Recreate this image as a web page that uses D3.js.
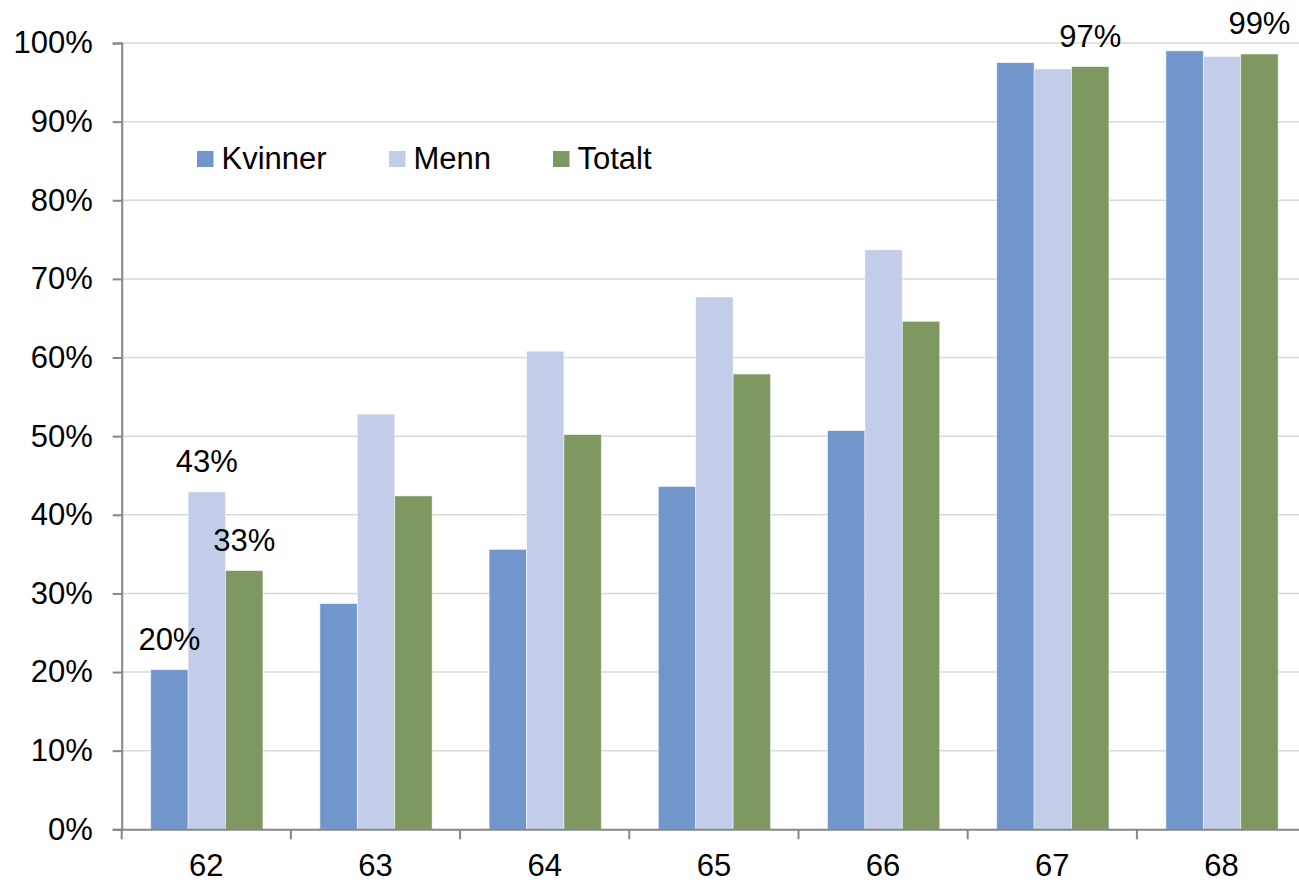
<!DOCTYPE html>
<html>
<head>
<meta charset="utf-8">
<script src="https://cdn.jsdelivr.net/npm/d3@7"></script>
<style>
  html, body { margin: 0; padding: 0; background: #fff; overflow: hidden; }
  svg { display: block; font-family: "Liberation Sans", Arial, sans-serif; }
</style>
</head>
<body>
<svg id="chart" width="1299" height="883"></svg>
<script>
const categories = ["62", "63", "64", "65", "66", "67", "68"];
const seriesNames = ["Kvinner", "Menn", "Totalt"];
const kvinner = [20.3, 28.7, 35.6, 43.6, 50.7, 97.5, 99.0];
const menn    = [42.9, 52.8, 60.8, 67.7, 73.7, 96.7, 98.3];
const totalt  = [32.9, 42.4, 50.2, 57.9, 64.6, 97.0, 98.6];
const yTicks = [0, 10, 20, 30, 40, 50, 60, 70, 80, 90, 100];
const colors = ["#7096CC", "#C3CDE9", "#7F9862"];
// data labels: [category, series]
const labelCats = ["62", "62", "62", "67", "68"];
const labelSeries = ["Kvinner", "Menn", "Totalt", "Totalt", "Totalt"];

const seriesValues = { Kvinner: kvinner, Menn: menn, Totalt: totalt };

const svg = d3.select("#chart");
const pLeft = 121.7, pRight = 121.7 + 7 * 169.2, pTop = 43, pBottom = 829.3;
const FS = 31;

const x = d3.scaleBand().domain(categories).range([pLeft, pRight]).paddingInner(0).paddingOuter(0);
const bw = x.bandwidth();
const x1 = d3.scaleBand().domain(seriesNames).range([bw * 0.1715, bw * 0.8347]).padding(0);
const y = d3.scaleLinear().domain([0, 100]).range([pBottom, pTop]);
const color = d3.scaleOrdinal().domain(seriesNames).range(colors);

// gridlines
svg.append("g").selectAll("line").data(yTicks.filter(d => d > 0)).join("line")
  .attr("x1", pLeft).attr("x2", pRight)
  .attr("y1", d => y(d)).attr("y2", d => y(d))
  .attr("stroke", "#d9d9d9").attr("stroke-width", 1.5);

// bars
const rows = categories.map((c, i) => ({ cat: c, vals: seriesNames.map(s => ({ s, v: seriesValues[s][i] })) }));
svg.append("g").selectAll("g").data(rows).join("g")
  .attr("transform", d => `translate(${x(d.cat)},0)`)
  .selectAll("rect").data(d => d.vals).join("rect")
  .attr("x", d => x1(d.s))
  .attr("width", x1.bandwidth())
  .attr("y", d => y(d.v))
  .attr("height", d => y(0) - y(d.v))
  .attr("fill", d => color(d.s))
  .attr("stroke", "rgba(255,255,255,0.6)").attr("stroke-width", 0.8);

// y axis
const yAxis = d3.axisLeft(y).tickValues(yTicks).tickFormat(d => d + "%").tickSize(9).tickPadding(20);
const gy = svg.append("g").attr("transform", `translate(${pLeft},0)`).call(yAxis);
gy.select(".domain").attr("stroke", "#868686").attr("stroke-width", 2);
gy.selectAll(".tick line").attr("stroke", "#868686").attr("stroke-width", 2);
gy.selectAll(".tick text").attr("font-size", FS).attr("fill", "#000")
  .attr("font-family", "Liberation Sans, Arial, sans-serif");

// x axis
const xAxis = d3.axisBottom(x).tickSize(0).tickPadding(25);
const gx = svg.append("g").attr("transform", `translate(0,${pBottom})`).call(xAxis);
gx.select(".domain").attr("stroke", "#868686").attr("stroke-width", 2);
gx.selectAll(".tick text").attr("font-size", FS).attr("fill", "#000")
  .attr("font-family", "Liberation Sans, Arial, sans-serif");
// category separators
svg.append("g").selectAll("line").data(categories).join("line")
  .attr("x1", d => x(d)).attr("x2", d => x(d))
  .attr("y1", pBottom).attr("y2", pBottom + 10)
  .attr("stroke", "#868686").attr("stroke-width", 2);

// data labels
svg.append("g").selectAll("text").data(labelCats.map((c, i) => ({ c, s: labelSeries[i] }))).join("text")
  .attr("x", d => x(d.c) + x1(d.s) + x1.bandwidth() / 2)
  .attr("y", d => y(seriesValues[d.s][categories.indexOf(d.c)]) - 20)
  .attr("text-anchor", "middle")
  .attr("font-size", FS).attr("fill", "#000")
  .text(d => Math.round(seriesValues[d.s][categories.indexOf(d.c)]) + "%");

// legend
const legendX = [197, 389, 553];
const lg = svg.append("g").selectAll("g").data(seriesNames).join("g")
  .attr("transform", (d, i) => `translate(${legendX[i]},151)`);
lg.append("rect").attr("width", 16.5).attr("height", 16).attr("fill", d => color(d));
lg.append("text").attr("x", 24.5).attr("y", 17.5).attr("font-size", FS).attr("fill", "#000").text(d => d);
</script>
</body>
</html>
